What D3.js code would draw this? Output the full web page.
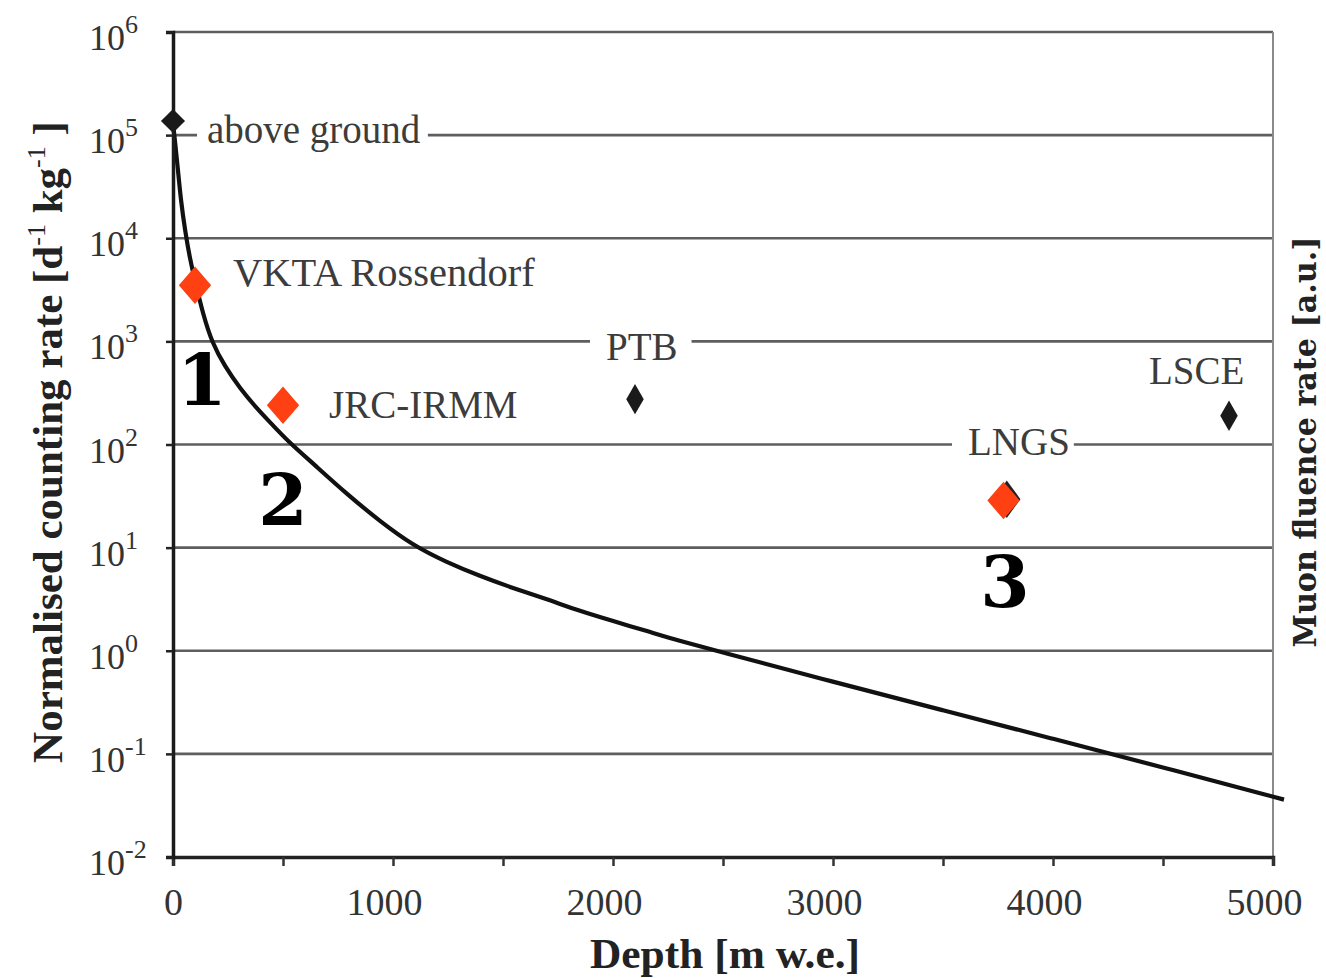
<!DOCTYPE html>
<html>
<head>
<meta charset="utf-8">
<script src="https://cdn.jsdelivr.net/npm/d3@7"></script>
<style>
  body { margin: 0; background: #fff; }
</style>
</head>
<body>
<div id="chart"></div>
<script>
// muon curve (depth in m w.e., normalised counting rate)
var curve_depth = [0, 9, 23, 36, 55, 77, 105, 136, 177, 236, 305, 377, 450, 518, 636, 791, 941, 1091, 1245, 1395, 1545, 1700, 1850, 2000, 2155, 2305, 2468, 3000, 3500, 4000, 4500, 5050];
var curve_rate = [1.31e5, 8.8e4, 4.5e4, 2.31e4, 1.18e4, 6300, 3470, 1860, 973, 570, 349, 229, 157, 110, 65.6, 32.9, 18.0, 10.5, 7.2, 5.3, 4.05, 3.16, 2.42, 1.94, 1.55, 1.24, 1.0, 0.50, 0.265, 0.14, 0.074, 0.036];

// labs
var black_names = ["above ground", "PTB", "LSCE", "LNGS"];
var black_depth = [0, 2100, 4800, 3790];
var black_rate = [1.37e5, 275, 190, 29.5];

var red_names = ["VKTA Rossendorf", "JRC-IRMM", "LNGS"];
var red_depth = [100, 500, 3775];
var red_rate = [3500, 240, 28.6];
var red_numbers = ["1", "2", "3"];

var x_ticks = [0, 500, 1000, 1500, 2000, 2500, 3000, 3500, 4000, 4500, 5000];
var y_exponents = [-2, -1, 0, 1, 2, 3, 4, 5, 6];

var width = 1326, height = 978;
var serif = "'Liberation Serif', 'Times New Roman', serif";
var heavy_serif = "'DejaVu Serif', serif";

var svg = d3.select("#chart").append("svg")
    .attr("width", width)
    .attr("height", height)
    .style("font-family", serif);

svg.append("rect").attr("width", width).attr("height", height).attr("fill", "#fff");

var x = d3.scaleLinear().domain([0, 5000]).range([173, 1273]);
var y = d3.scaleLog().domain([1e-2, 1e6]).range([857, 32]);

// horizontal grid lines
svg.append("g")
    .selectAll("line")
    .data(y_exponents.slice(1))
    .enter().append("line")
    .attr("x1", x(0)).attr("x2", x(5000))
    .attr("y1", function(e) { return y(Math.pow(10, e)); })
    .attr("y2", function(e) { return y(Math.pow(10, e)); })
    .attr("stroke", "#5e5e5e")
    .attr("stroke-width", 2.6);

// right border
svg.append("line")
    .attr("x1", x(5000)).attr("x2", x(5000))
    .attr("y1", y(1e6)).attr("y2", y(1e-2))
    .attr("stroke", "#8a8a8a")
    .attr("stroke-width", 2);

// point labels, with white boxes that cut the grid lines
var label_pos = [
    {text: "above ground", x: 207, y: 143, size: 39, pad: [10, 7]},
    {text: "VKTA Rossendorf", x: 233, y: 286, size: 40.5, pad: [8, 8]},
    {text: "JRC-IRMM", x: 329, y: 418, size: 39, pad: [8, 8]},
    {text: "PTB", x: 606, y: 360, size: 39, pad: [16, 14]},
    {text: "LSCE", x: 1149, y: 384, size: 39, pad: [8, 8]},
    {text: "LNGS", x: 968, y: 455, size: 39, pad: [16, 4]}
];
var labels = svg.append("g");
label_pos.forEach(function(l) {
    var g = labels.append("g");
    var t = g.append("text")
        .attr("x", l.x).attr("y", l.y)
        .attr("font-size", l.size)
        .attr("fill", "#3c3c3c")
        .text(l.text);
    var bb = t.node().getBBox();
    g.insert("rect", "text")
        .attr("x", bb.x - l.pad[0]).attr("y", bb.y + 4)
        .attr("width", bb.width + l.pad[0] + l.pad[1]).attr("height", bb.height - 8)
        .attr("fill", "#fff");
});

// curve
var line = d3.line()
    .x(function(d) { return x(d[0]); })
    .y(function(d) { return y(d[1]); })
    .curve(d3.curveBasis);

svg.append("path")
    .datum(curve_depth.map(function(d, i) { return [d, curve_rate[i]]; }))
    .attr("d", line)
    .attr("fill", "none")
    .attr("stroke", "#111")
    .attr("stroke-width", 4.2);

// axes
var x_axis = d3.axisBottom(x)
    .tickValues(x_ticks)
    .tickSize(9)
    .tickFormat(function(d) { return d % 1000 === 0 ? d : ""; });

var gx = svg.append("g")
    .attr("transform", "translate(0," + y(1e-2) + ")")
    .call(x_axis);
gx.select(".domain").attr("stroke", "#222").attr("stroke-width", 3.5);
gx.selectAll(".tick line").attr("stroke", "#333").attr("stroke-width", 2.5);
gx.selectAll(".tick text")
    .style("font-family", serif)
    .attr("font-size", 38)
    .attr("fill", "#333")
    .attr("y", 58)
    .attr("dy", 0)
    .attr("dx", function(d) { return d === 0 ? 0 : -9; });

var y_axis = d3.axisLeft(y)
    .tickValues(y_exponents.map(function(e) { return Math.pow(10, e); }))
    .tickSize(7)
    .tickFormat("");

var gy = svg.append("g")
    .attr("transform", "translate(" + x(0) + ",0)")
    .call(y_axis);
gy.select(".domain").attr("stroke", "#1a1a1a").attr("stroke-width", 3.5);
gy.selectAll(".tick line").attr("stroke", "#222").attr("stroke-width", 2.5);

var ylab = svg.append("g").selectAll("text")
    .data(y_exponents)
    .enter().append("text")
    .attr("x", 89)
    .attr("y", function(e) { return y(Math.pow(10, e)) + 18; })
    .attr("font-size", 36)
    .attr("fill", "#333");
ylab.append("tspan").text("10");
ylab.append("tspan")
    .attr("font-size", 26)
    .attr("dy", -17)
    .text(function(e) { return e; });

// markers
var black_diamond = d3.symbol().type(d3.symbolDiamond).size(265);
var square = d3.symbol().type(d3.symbolSquare);
var markers = svg.append("g");

// LNGS black marker sits just behind the red one
markers.append("path")
    .attr("d", square.size(580)())
    .attr("transform", "translate(" + x(black_depth[3]) + "," + y(black_rate[3]) + ") scale(0.8,1.1) rotate(45)")
    .attr("fill", "#222");

markers.append("path")
    .attr("d", square.size(290)())
    .attr("transform", "translate(" + x(black_depth[0]) + "," + y(black_rate[0]) + ") rotate(45)")
    .attr("fill", "#1a1a1a");

[1, 2].forEach(function(i) {
    markers.append("path")
        .attr("d", black_diamond())
        .attr("transform", "translate(" + x(black_depth[i]) + "," + y(black_rate[i]) + ")")
        .attr("fill", "#1a1a1a");
});

red_depth.forEach(function(d, i) {
    markers.append("path")
        .attr("d", square.size(580)())
        .attr("transform", "translate(" + x(d) + "," + y(red_rate[i]) + ") scale(0.95,1.1) rotate(45)")
        .attr("fill", "#ff4012");
});

// big numbers under the red points
var number_pos = [{x: 202, y: 405}, {x: 283, y: 525}, {x: 1005, y: 607}];
svg.append("g").selectAll("text")
    .data(red_numbers)
    .enter().append("text")
    .attr("x", function(d, i) { return number_pos[i].x; })
    .attr("y", function(d, i) { return number_pos[i].y; })
    .attr("text-anchor", "middle")
    .style("font-family", heavy_serif)
    .attr("font-weight", "bold")
    .attr("font-size", 71)
    .attr("fill", "#000")
    .text(function(d) { return d; });

// axis titles
svg.append("text")
    .attr("x", 725).attr("y", 968)
    .attr("text-anchor", "middle")
    .attr("font-size", 42)
    .attr("font-weight", "bold")
    .attr("fill", "#222")
    .attr("textLength", 270)
    .attr("lengthAdjust", "spacingAndGlyphs")
    .text("Depth [m w.e.]");

var ytitle = svg.append("text")
    .attr("transform", "translate(62,442) rotate(-90)")
    .attr("text-anchor", "middle")
    .attr("font-size", 43)
    .attr("font-weight", "bold")
    .attr("fill", "#222");
ytitle.append("tspan").text("Normalised counting rate [d");
ytitle.append("tspan").attr("font-size", 26).attr("font-weight", "normal").attr("dy", -17).text("-1");
ytitle.append("tspan").attr("dy", 17).text(" kg");
ytitle.append("tspan").attr("font-size", 26).attr("font-weight", "normal").attr("dy", -17).text("-1");
ytitle.append("tspan").attr("dy", 17).text(" ]");

svg.append("text")
    .attr("transform", "translate(1316,442) rotate(-90)")
    .attr("text-anchor", "middle")
    .style("font-family", heavy_serif)
    .attr("font-size", 31)
    .attr("font-weight", "bold")
    .attr("fill", "#222")
    .attr("textLength", 411)
    .attr("lengthAdjust", "spacingAndGlyphs")
    .text("Muon fluence rate [a.u.]");
</script>
</body>
</html>
